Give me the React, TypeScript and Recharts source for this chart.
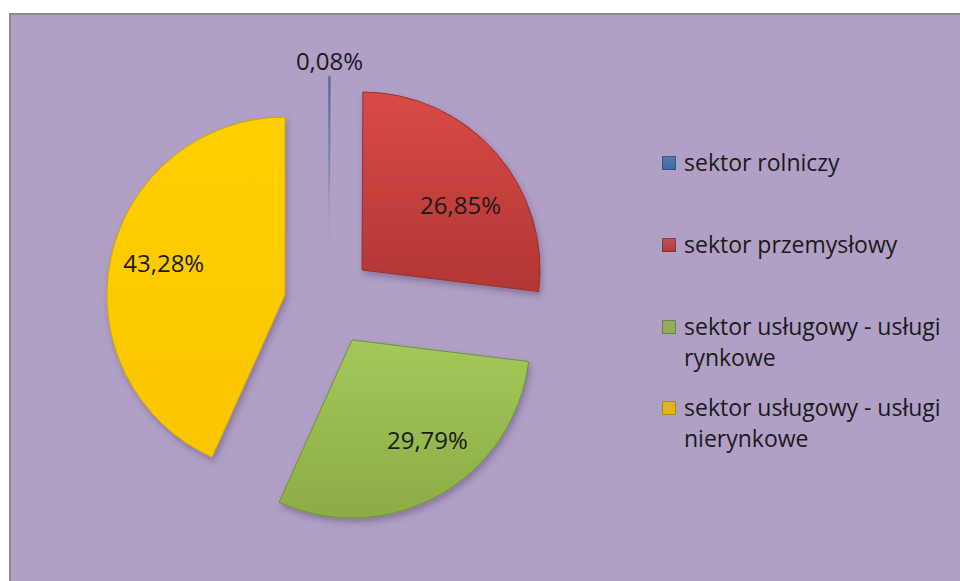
import React from "react";
import { PieChart, Pie, Cell, Legend } from "recharts";

// Struktura sektorowa (udział %)
const SECTORS = [
  "sektor rolniczy",
  "sektor przemysłowy",
  "sektor usługowy - usługi rynkowe",
  "sektor usługowy - usługi nierynkowe",
];
const SHARES = [0.08, 26.85, 29.79, 43.28];

const data = SECTORS.map((name, i) => ({ name, value: SHARES[i] }));

// styling: gradient ids + legend swatch colours
const GRADS = ["gBlue", "gRed", "gGreen", "gYellow"];
const STROKES = ["#4d6a94", "#9a302e", "#71903a", "#d0a600"];
const SWATCH = ["#3a6aa8", "#b83b39", "#8db04a", "#e8b800"];

// exploded slice vertices (px) and label placement
const CENTERS: [number, number][] = [
  [329, 255],
  [362, 270],
  [352, 340],
  [285, 295],
];
const LABEL_R = [195, 118, 125, 124];
const LABEL_NUDGE: [number, number][] = [
  [0, 0],
  [10, 13],
  [14, -9],
  [0, -7],
];

const RADIAN = Math.PI / 180;
const fmt = (v: number) => v.toFixed(2).replace(".", ",") + "%";

const makeLabel = (k: number) => (props: any) => {
  if (props.index !== k) return null;
  const { cx, cy, midAngle, value } = props;
  const r = LABEL_R[k];
  const x = cx + r * Math.cos(-midAngle * RADIAN) + LABEL_NUDGE[k][0];
  const y = cy + r * Math.sin(-midAngle * RADIAN) + LABEL_NUDGE[k][1];
  return (
    <text
      x={x}
      y={y}
      textAnchor="middle"
      dominantBaseline="central"
      fill="#1a1a1a"
      fontSize={24}
      fontFamily="'Open Sans', sans-serif"
    >
      {fmt(value)}
    </text>
  );
};

const LEGEND_LINES = [
  ["sektor rolniczy"],
  ["sektor przemysłowy"],
  ["sektor usługowy - usługi", "rynkowe"],
  ["sektor usługowy - usługi", "nierynkowe"],
];
const LEGEND_ROW_H = [82, 82, 81, 70];

const LegendContent = () => (
  <div style={{ fontFamily: "'Open Sans', sans-serif", fontSize: 23, color: "#1a1a1a" }}>
    {SECTORS.map((s, i) => (
      <div key={s} style={{ display: "flex", height: LEGEND_ROW_H[i] }}>
        <div
          style={{
            width: 14,
            height: 14,
            marginTop: 9,
            marginRight: 8,
            flexShrink: 0,
            background: `linear-gradient(180deg, ${SWATCH[i]}bb, ${SWATCH[i]})`,
            boxShadow: "inset 0 0 0 1px rgba(0,0,0,0.25)",
          }}
        />
        <div style={{ lineHeight: "31px" }}>
          {LEGEND_LINES[i].map((l) => (
            <div key={l}>{l}</div>
          ))}
        </div>
      </div>
    ))}
  </div>
);

export default function App() {
  return (
    <div style={{ position: "fixed", left: 0, top: 0, width: 960, height: 581, overflow: "hidden", background: "#fff" }}>
      <style>{"html,body{margin:0;overflow:hidden}"}</style>
      <div
        style={{
          position: "absolute",
          left: 9,
          top: 13,
          right: 0,
          bottom: 0,
          background: "#b1a0c6",
          borderLeft: "2px solid #8a8a8a",
          borderTop: "2px solid #8a8a8a",
        }}
      />
      <div style={{ position: "absolute", left: 0, top: 0 }}>
        <PieChart width={960} height={581} margin={{ top: 0, right: 0, bottom: 0, left: 0 }}>
          <defs>
            <linearGradient id="gBlue" x1="0" y1="0" x2="0" y2="1">
              <stop offset="0%" stopColor="#4a6a98" stopOpacity={1} />
              <stop offset="45%" stopColor="#6a80a8" stopOpacity={0.8} />
              <stop offset="100%" stopColor="#a99cc0" stopOpacity={0.2} />
            </linearGradient>
            <linearGradient id="gRed" x1="0" y1="0" x2="0" y2="1">
              <stop offset="0%" stopColor="#d84a47" />
              <stop offset="100%" stopColor="#b23634" />
            </linearGradient>
            <linearGradient id="gGreen" x1="0" y1="0" x2="0" y2="1">
              <stop offset="0%" stopColor="#a3c95a" />
              <stop offset="100%" stopColor="#8dab46" />
            </linearGradient>
            <linearGradient id="gYellow" x1="0" y1="0" x2="0" y2="1">
              <stop offset="0%" stopColor="#ffd000" />
              <stop offset="100%" stopColor="#fac600" />
            </linearGradient>
            <filter id="shadow" x="-20%" y="-20%" width="140%" height="140%">
              <feDropShadow dx="2" dy="4" stdDeviation="3" floodColor="#3a2a55" floodOpacity={0.35} />
            </filter>
          </defs>
          {CENTERS.map(([cx, cy], k) => (
            <Pie
              key={k}
              data={data}
              dataKey="value"
              nameKey="name"
              cx={cx}
              cy={cy}
              innerRadius={0}
              outerRadius={178}
              startAngle={90}
              endAngle={-270}
              label={makeLabel(k)}
              labelLine={false}
              isAnimationActive={false}
            >
              {data.map((d, i) => (
                <Cell
                  key={d.name}
                  fill={i === k ? `url(#${GRADS[i]})` : "none"}
                  stroke={i === k ? (k === 0 ? "url(#gBlue)" : STROKES[i]) : "none"}
                  strokeWidth={k === 0 ? 1.5 : 1}
                  filter={i === k && k !== 0 ? "url(#shadow)" : undefined}
                />
              ))}
            </Pie>
          ))}
          <Legend
            layout="vertical"
            align="right"
            verticalAlign="top"
            content={<LegendContent />}
            wrapperStyle={{ left: 662, top: 147, width: 290 }}
          />
        </PieChart>
      </div>
    </div>
  );
}
